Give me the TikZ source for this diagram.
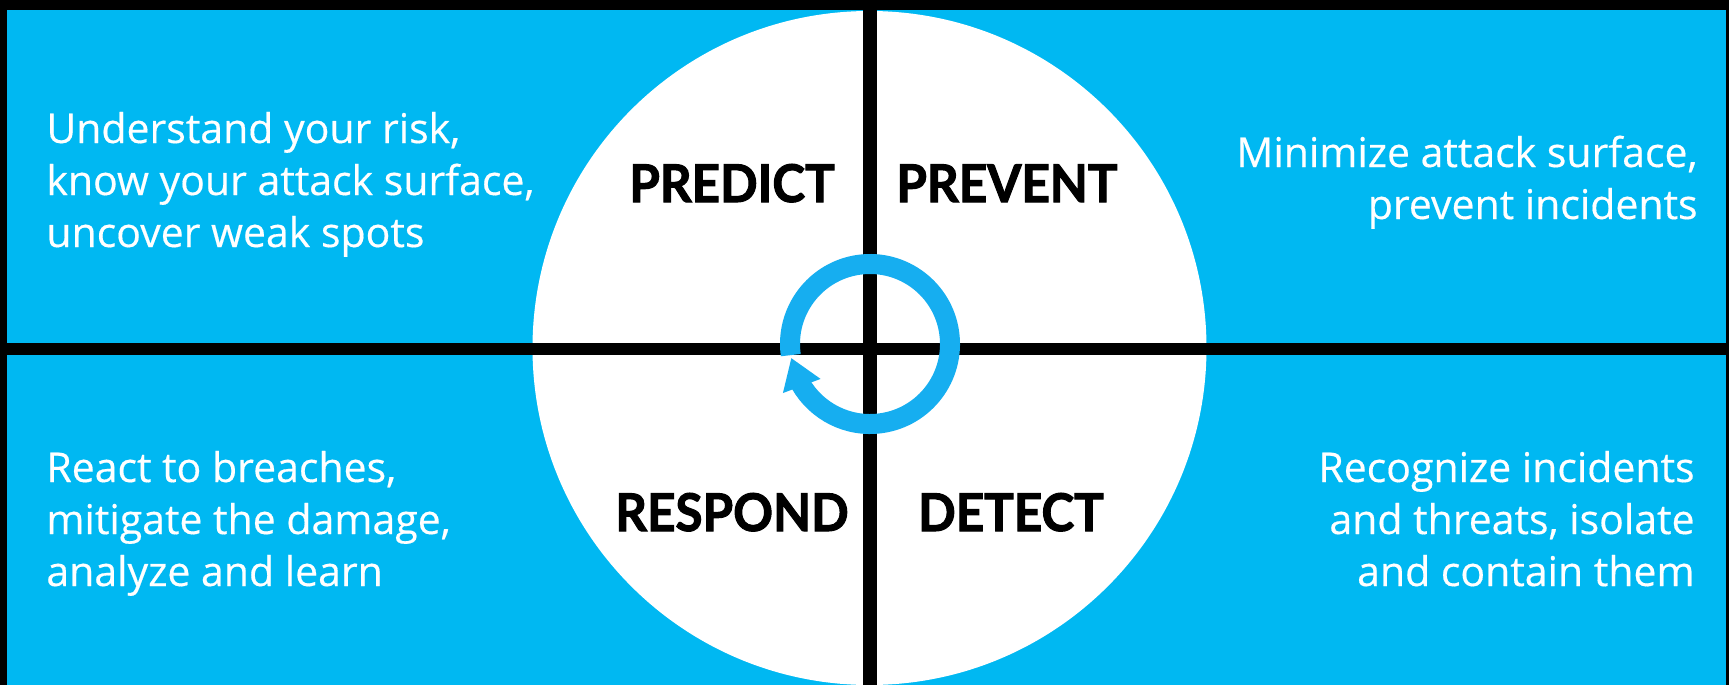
\documentclass[tikz,border=0pt]{standalone}
\usepackage{fontspec}
\setmainfont{Open Sans}[FakeBold=0.4]
\newfontfamily\headfont{Lato}[BoldFeatures={FakeBold=2}]
\usetikzlibrary{arrows.meta,bending}
\definecolor{bgblue}{RGB}{0,184,242}
\definecolor{ringblue}{RGB}{22,174,240}
\begin{document}
\begin{tikzpicture}[x=0.5pt,y=-0.5pt,
  desc/.style={text=white, font=\fontsize{20.5}{26}\selectfont, inner sep=0pt},
  head/.style={text=black, font=\headfont\bfseries\fontsize{26}{30}\selectfont, inner sep=0pt, anchor=base, xscale=0.95},
  divider/.style={draw=black, line cap=butt},
  ring/.style={draw=ringblue, line width=10pt, -{Triangle[length=15pt,width=19pt]}}]
\useasboundingbox (0,0) rectangle (1729,685);
\fill[bgblue] (0,0) rectangle (1729,685);
\begin{scope}
  \clip (0,0) rectangle (1729,685);
  \fill[white] (869.5,348) circle[radius=337];
\end{scope}
% frame
\fill[black] (0,0) rectangle (1729,10);
\fill[black] (0,0) rectangle (7,685);
\fill[black] (1726,0) rectangle (1729,685);
% dividers
\coordinate (ltop) at (870,10);
\coordinate (lbot) at (870,685);
\coordinate (lleft) at (7,349);
\coordinate (lright) at (1726,349);
\draw[divider, line width=6pt] (lleft) -- (lright);
\draw[divider, line width=7pt] (ltop) -- (lbot);
% cycle arrow
\coordinate (rc) at (870,344);
\draw[ring] (rc) ++(172:80) arc[start angle=172, end angle=530, radius=80];
% headings
\node[head] (predict) at (732,202) {PREDICT};
\node[head] (prevent) at (1007,202) {PREVENT};
\node[head] (respond) at (732,531) {RESPOND};
\node[head] (detect) at (1011,531) {DETECT};
% descriptions (base anchor = baseline of last line)
\node[desc, anchor=base west, align=left] (predictdesc) at (46,247)
  {Understand your risk,\\know your attack surface,\\uncover weak spots};
\node[desc, anchor=base east, align=right] (preventdesc) at (1698,219)
  {Minimize attack surface,\\prevent incidents};
\node[desc, anchor=base west, align=left] (responddesc) at (46,586)
  {React to breaches,\\mitigate the damage,\\analyze and learn};
\node[desc, anchor=base east, align=right] (detectdesc) at (1695,586)
  {Recognize incidents\\and threats, isolate\\and contain them};
\end{tikzpicture}
\end{document}
